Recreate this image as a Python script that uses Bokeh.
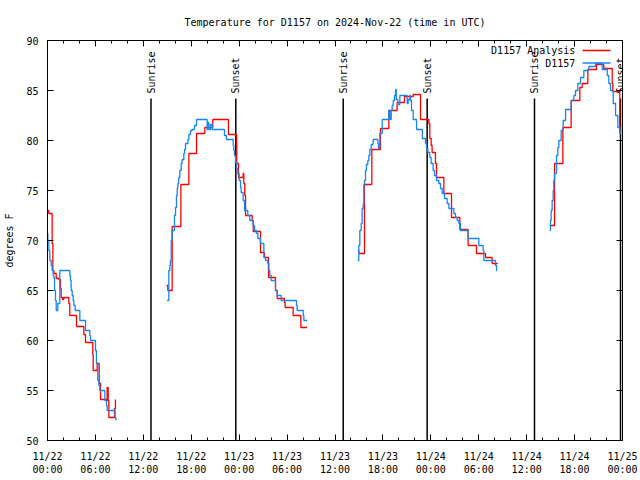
import math
from bokeh.plotting import figure
from bokeh.models import FixedTicker, LinearAxis, Range1d
from bokeh.core.properties import value
from bokeh.embed import file_html
from bokeh.resources import INLINE

# ---------------- data (hours since 2024-11-22 00:00 UTC, degrees F) ----------------
title_text = "Temperature for D1157 on 2024-Nov-22 (time in UTC)"
series_names = ["D1157 Analysis", "D1157"]

red1_h = [0.0, 0.16, 0.58, 0.67, 0.79, 1.09, 1.42, 1.63, 1.71, 1.88, 2.04, 2.67, 2.79, 3.63, 4.55, 4.76,
          5.67, 5.72, 6.22, 6.47, 6.64, 7.47, 7.51, 7.55, 7.60, 7.68, 8.39, 8.51]
red1_t = [73.0, 72.7, 69.7, 67.0, 66.7, 66.2, 66.1, 65.2, 64.3, 64.1, 64.3, 63.7, 62.5, 61.4, 60.6, 59.8,
          58.6, 57.0, 57.7, 55.7, 54.1, 55.3, 54.0, 55.3, 54.0, 52.3, 53.2, 54.1]
blue1_h = [0.0, 0.04, 0.17, 0.29, 0.46, 0.58, 0.71, 0.79, 0.88, 1.0, 1.09, 1.29, 1.54, 2.80, 2.88, 2.96,
           3.09, 3.21, 3.30, 3.46, 4.05, 4.76, 5.30, 5.38, 6.01, 6.13, 6.30, 6.43, 6.55, 7.18, 7.39, 7.47,
           8.47, 8.56]
blue1_t = [70.7, 70.0, 69.0, 68.0, 67.5, 67.0, 66.5, 66.3, 65.0, 64.0, 63.0, 63.7, 67.0, 66.5, 66.0, 65.0,
           64.5, 64.0, 63.5, 63.0, 62.0, 61.0, 60.5, 60.0, 59.0, 57.7, 56.0, 55.5, 55.0, 54.0, 53.5, 53.0,
           52.3, 52.0]

red2_h = [14.90, 15.07, 15.61, 16.70, 17.70, 18.66, 19.70, 20.70, 22.66, 23.67, 23.70, 23.92, 24.50, 24.58,
          24.70, 24.80, 25.63, 25.76, 26.67, 27.17, 27.67, 28.55, 28.76, 29.67, 29.76, 30.76, 31.72, 32.50]
red2_t = [65.5, 65.0, 71.4, 75.6, 78.7, 80.7, 81.3, 82.1, 80.6, 79.8, 77.7, 76.3, 76.7, 75.7,
          74.5, 72.5, 72.0, 70.9, 68.8, 68.3, 66.3, 65.0, 64.2, 63.8, 63.3, 62.5, 61.3, 61.3]
blue2_h = [14.98, 15.19, 15.32, 15.40, 15.49, 15.61, 15.90, 16.03, 16.15, 16.24, 16.32, 16.44, 16.57, 16.74,
           16.86, 17.07, 17.16, 17.28, 17.58, 17.70, 17.91, 18.12, 18.41, 18.66, 19.99, 20.08, 20.20, 20.41,
           20.62, 22.16, 22.41, 23.25, 23.33, 23.41, 23.54, 23.67, 23.83, 24.00, 24.17, 24.25, 24.50, 24.67,
           25.08, 25.33, 25.75, 25.92, 26.17, 26.34, 26.67, 27.09, 27.30, 27.59, 27.72, 27.84, 28.01, 28.55,
           28.76, 29.26, 31.18, 31.26, 32.02, 32.10, 32.52]
blue2_t = [64.0, 67.0, 67.5, 68.0, 70.0, 71.0, 72.5, 73.3, 74.5, 75.2, 75.7, 76.3, 77.0, 77.7,
           78.1, 78.7, 79.1, 79.7, 80.1, 80.6, 81.0, 81.1, 81.5, 82.1, 81.1, 81.8, 81.1, 81.6,
           81.1, 80.5, 80.1, 79.5, 79.0, 78.5, 77.8, 77.2, 76.7, 76.0, 75.3, 74.8, 74.0, 73.0,
           72.5, 72.0, 71.5, 71.0, 70.7, 70.2, 69.7, 68.3, 68.0, 67.7, 67.0, 66.5, 66.0, 65.0,
           64.5, 64.0, 63.5, 63.0, 62.5, 62.0, 62.0]

red3_h = [38.86, 38.98, 39.69, 40.61, 41.70, 42.74, 43.78, 44.70, 45.79, 46.71, 47.75, 47.87, 48.04, 48.16,
          48.58, 48.71, 49.63, 50.59, 51.63, 52.67, 53.72, 54.85, 55.68, 56.39]
red3_t = [69.0, 68.7, 75.6, 79.1, 81.2, 83.0, 83.8, 84.4, 84.6, 82.1, 81.7, 80.2, 79.5, 78.8,
          77.7, 76.3, 74.7, 72.3, 71.1, 69.5, 68.7, 68.3, 67.7, 67.7]
blue3_h = [38.86, 38.98, 39.11, 39.28, 39.40, 39.53, 39.61, 39.69, 39.82, 39.94, 40.11, 40.24, 40.36, 40.53,
           40.78, 41.37, 41.45, 41.61, 41.91, 42.74, 42.87, 43.04, 43.16, 43.29, 43.45, 43.58, 43.67, 43.87,
           44.12, 45.04, 45.16, 45.37, 45.45, 45.58, 45.79, 46.21, 46.94, 47.33, 47.46, 47.62, 47.87, 48.04,
           48.29, 48.46, 48.71, 49.00, 49.21, 49.42, 49.71, 50.05, 50.26, 50.88, 51.09, 51.30, 51.51, 51.71,
           52.66, 54.01, 54.55, 54.64, 56.10, 56.23, 56.31]
blue3_t = [68.0, 69.5, 71.0, 71.7, 73.2, 73.6, 75.6, 76.0, 77.0, 77.6, 78.0, 78.5, 79.1, 79.6,
           80.1, 79.7, 79.2, 80.7, 82.1, 83.0, 82.1, 83.0, 83.5, 84.0, 84.5, 85.1, 84.1, 83.6,
           84.5, 83.7, 84.1, 84.5, 84.0, 83.0, 82.1, 81.1, 80.2, 79.7, 79.2, 78.8, 78.3, 77.7,
           77.0, 76.5, 76.0, 75.7, 75.2, 74.7, 74.2, 73.7, 73.2, 72.7, 72.3, 72.0, 71.7, 71.0,
           70.2, 69.5, 69.0, 68.0, 67.5, 67.0, 67.0]

red4_h = [62.90, 63.49, 64.53, 65.57, 66.66, 66.95, 67.66, 68.75, 69.66, 70.71, 70.79, 71.66, 71.75]
red4_t = [71.5, 77.7, 81.3, 84.0, 85.3, 85.7, 87.1, 87.6, 87.2, 85.7, 84.9, 80.8, 81.0]
blue4_h = [62.90, 62.98, 63.07, 63.19, 63.32, 63.40, 63.49, 63.74, 63.90, 64.03, 64.32, 64.57, 64.87, 65.58,
           65.91, 66.12, 66.41, 66.74, 67.16, 67.79, 68.62, 69.46, 70.09, 70.29, 70.50, 70.84, 71.13, 71.42,
           71.67, 71.85]
blue4_t = [71.0, 72.0, 73.0, 74.0, 75.0, 76.0, 76.7, 78.5, 79.3, 80.0, 81.0, 82.0, 83.1, 84.0,
           84.5, 85.0, 85.7, 86.3, 87.0, 87.4, 87.7, 87.1, 86.5, 85.7, 85.0, 83.7, 82.5, 81.3,
           80.7, 80.7]

sunrise_h = [12.96, 37.03, 60.98]
sunset_h = [23.58, 47.54, 71.75]

x_tick_vals = [0, 6, 12, 18, 24, 30, 36, 42, 48, 54, 60, 66, 72]
x_tick_labels = ["11/22\n00:00", "11/22\n06:00", "11/22\n12:00", "11/22\n18:00",
                 "11/23\n00:00", "11/23\n06:00", "11/23\n12:00", "11/23\n18:00",
                 "11/24\n00:00", "11/24\n06:00", "11/24\n12:00", "11/24\n18:00",
                 "11/25\n00:00"]
x_minor_vals = [h for h in range(0, 73, 2) if h % 6 != 0]
y_tick_vals = [50, 55, 60, 65, 70, 75, 80, 85, 90]

# ---------------- styling ----------------
FONT = "DejaVu Sans Mono"
FS = "10px"
RED = "#ff0000"
BLUE = "#1487f5"

p = figure(width=640, height=480, output_backend="svg", toolbar_location=None,
           x_range=Range1d(0, 72), y_range=Range1d(50, 90),
           min_border_left=47, min_border_right=18, min_border_top=40, min_border_bottom=40,
           title=title_text)
p.grid.visible = False
p.outline_line_color = "black"
p.outline_line_width = 1
p.background_fill_color = "white"
p.border_fill_color = "white"
p.title.align = "center"
p.title.text_font = FONT
p.title.text_font_style = "normal"
p.title.text_font_size = FS
p.title.text_color = "black"
p.title.standoff = 26


def style_axis(ax, show_labels, xdir):
    ax.axis_line_color = "black"
    ax.major_tick_line_color = "black"
    ax.minor_tick_line_color = "black"
    ax.major_tick_in = 6
    ax.major_tick_out = 0
    ax.minor_tick_in = 3
    ax.minor_tick_out = 0
    if xdir:
        ax.ticker = FixedTicker(ticks=x_tick_vals, minor_ticks=x_minor_vals)
    else:
        ax.ticker = FixedTicker(ticks=y_tick_vals, minor_ticks=[])
    if show_labels:
        ax.major_label_text_font = FONT
        ax.major_label_text_font_size = FS
        ax.major_label_text_color = "black"
    else:
        ax.major_label_text_color = None
        ax.major_label_text_font_size = "1px"
        ax.major_label_standoff = 0


xa = p.xaxis[0]
style_axis(xa, True, True)
xa.major_label_overrides = {v: lab for v, lab in zip(x_tick_vals, x_tick_labels)}
xa.major_label_standoff = 10

ya = p.yaxis[0]
style_axis(ya, True, False)
ya.major_label_standoff = 9
ya.axis_label = "degrees F"
ya.axis_label_text_font = FONT
ya.axis_label_text_font_size = FS
ya.axis_label_text_font_style = "normal"
ya.axis_label_text_color = "black"
ya.axis_label_standoff = 8

top_ax = LinearAxis()
style_axis(top_ax, False, True)
p.add_layout(top_ax, "above")
right_ax = LinearAxis()
style_axis(right_ax, False, False)
p.add_layout(right_ax, "right")

# sunrise / sunset markers
p.segment(x0=sunrise_h, y0=[50] * 3, x1=sunrise_h, y1=[84.2] * 3, line_color="black", line_width=1.5)
p.segment(x0=sunset_h, y0=[50] * 3, x1=sunset_h, y1=[84.2] * 3, line_color="black", line_width=1.5)
p.text(x=sunrise_h, y=[84.7] * 3, text=["Sunrise"] * 3, angle=math.pi / 2,
       text_align="left", text_baseline="middle", text_font=value(FONT), text_font_size=FS,
       text_color="black")
p.text(x=sunset_h, y=[84.7] * 3, text=["Sunset"] * 3, angle=math.pi / 2,
       text_align="left", text_baseline="middle", text_font=value(FONT), text_font_size=FS,
       text_color="black")

# data series (step plots, separate segments)
for hh, tt in [(red1_h, red1_t), (red2_h, red2_t), (red3_h, red3_t), (red4_h, red4_t)]:
    p.step(hh, tt, mode="after", line_color=RED, line_width=1.3)
for hh, tt in [(blue1_h, blue1_t), (blue2_h, blue2_t), (blue3_h, blue3_t), (blue4_h, blue4_t)]:
    p.step(hh, tt, mode="after", line_color=BLUE, line_width=1.3)

# legend (gnuplot style: text then sample)
leg_y = [89.0, 87.75]
p.text(x=[66.1, 66.1], y=leg_y, text=series_names, text_align="right", text_baseline="middle",
       text_font=value(FONT), text_font_size=FS, text_color="black")
p.segment(x0=[67.0, 67.0], y0=leg_y, x1=[70.5, 70.5], y1=leg_y, line_color=[RED, BLUE], line_width=1.3)

open("out.html", "w").write(file_html(p, INLINE))
